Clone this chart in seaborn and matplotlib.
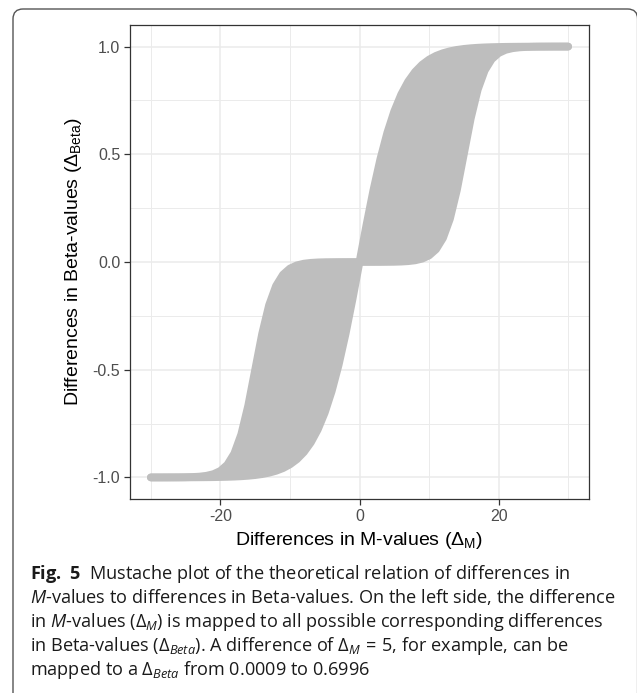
import matplotlib
matplotlib.use("Agg")
import matplotlib.pyplot as plt
import numpy as np
import pandas as pd
import seaborn as sns
from matplotlib.patches import FancyBboxPatch
from matplotlib.transforms import IdentityTransform

# ---- data ----
delta_m = list(range(-30, 31))
upper_beta = [-0.9999, -0.9999, -0.9998, -0.9997, -0.9995, -0.9990, -0.9980, -0.9961, -0.9922, -0.9846,
              -0.9697, -0.9412, -0.8889, -0.8000, -0.6667, -0.5000, -0.3333, -0.2000, -0.1111, -0.0588,
              -0.0303, -0.0154, -0.0077, -0.0039, -0.0019, -0.0009, -0.0005, -0.0002, -0.0001, -0.0000,
              0.0000, 0.1716, 0.3333, 0.4776, 0.6000, 0.6996, 0.7778, 0.8376, 0.8824, 0.9154,
              0.9394, 0.9568, 0.9692, 0.9781, 0.9845, 0.9890, 0.9922, 0.9945, 0.9961, 0.9972,
              0.9980, 0.9986, 0.9990, 0.9993, 0.9995, 0.9997, 0.9998, 0.9998, 0.9999, 0.9999, 0.9999]
lower_beta = [-0.9999, -0.9999, -0.9999, -0.9998, -0.9998, -0.9997, -0.9995, -0.9993, -0.9990, -0.9986,
              -0.9980, -0.9972, -0.9961, -0.9945, -0.9922, -0.9890, -0.9845, -0.9781, -0.9692, -0.9568,
              -0.9394, -0.9154, -0.8824, -0.8376, -0.7778, -0.6996, -0.6000, -0.4776, -0.3333, -0.1716,
              0.0000, 0.0000, 0.0001, 0.0002, 0.0005, 0.0009, 0.0019, 0.0039, 0.0077, 0.0154,
              0.0303, 0.0588, 0.1111, 0.2000, 0.3333, 0.5000, 0.6667, 0.8000, 0.8889, 0.9412,
              0.9697, 0.9846, 0.9922, 0.9961, 0.9980, 0.9990, 0.9995, 0.9997, 0.9998, 0.9999, 0.9999]
x_ticks = [-20, 0, 20]
x_ticklabels = ["-20", "0", "20"]
y_ticks = [-1.0, -0.5, 0.0, 0.5, 1.0]
y_ticklabels = ["-1.0", "-0.5", "0.0", "0.5", "1.0"]

caption_lines = [
    r"$\mathbf{Fig.\ 5}$  Mustache plot of the theoretical relation of differences in",
    r"$\mathit{M}$-values to differences in Beta-values. On the left side, the difference",
    r"in $\mathit{M}$-values ($\Delta_{M}$) is mapped to all possible corresponding differences",
    r"in Beta-values ($\Delta_{Beta}$). A difference of $\Delta_{M}\,=\,5$, for example, can be",
    r"mapped to a $\Delta_{Beta}$ from 0.0009 to 0.6996",
]

df = pd.DataFrame({"dm": delta_m, "upper": upper_beta, "lower": lower_beta})

# ---- style ----
sns.set_theme(style="white")
plt.rcParams["font.family"] = ["Liberation Sans", "DejaVu Sans"]
plt.rcParams["mathtext.fontset"] = "custom"
plt.rcParams["mathtext.rm"] = "Open Sans"
plt.rcParams["mathtext.it"] = "Open Sans:italic"
plt.rcParams["mathtext.bf"] = "Open Sans:bold"

W, H = 637, 693
fig = plt.figure(figsize=(W / 100, H / 100), dpi=100)
fig.patch.set_facecolor("white")
L, R, T, B = 130, 589, 25, 499
ax = fig.add_axes([L / W, 1 - B / H, (R - L) / W, (B - T) / H])

fill_col = "#BEBEBE"
ax.fill_between(df["dm"], df["lower"], df["upper"], color=fill_col, lw=0, zorder=2)
sns.lineplot(data=df, x="dm", y="upper", color=fill_col, lw=5.6, ax=ax,
             solid_capstyle="round", zorder=3)
sns.lineplot(data=df, x="dm", y="lower", color=fill_col, lw=5.6, ax=ax,
             solid_capstyle="round", zorder=3)

ax.set_xlim(-33, 33)
ax.set_ylim(-1.1, 1.1)
ax.set_xticks(x_ticks)
ax.set_xticklabels(x_ticklabels)
ax.set_yticks(y_ticks)
ax.set_yticklabels(y_ticklabels)
ax.set_xticks([-30, -10, 10, 30], minor=True)
ax.set_yticks([-0.75, -0.25, 0.25, 0.75], minor=True)
ax.grid(which="major", color="#EBEBEB", lw=1.1)
ax.grid(which="minor", color="#EBEBEB", lw=0.7)
ax.set_axisbelow(True)
ax.tick_params(which="major", direction="out", length=4.5, width=0.9, color="#333333",
               labelsize=11.5, labelcolor="#4D4D4D", pad=2.5, bottom=True, left=True)
ax.tick_params(which="minor", length=0)
for s in ax.spines.values():
    s.set_color("#333333")
    s.set_linewidth(0.9)

ax.set_xlabel(r"Differences in M-values ($\mathregular{\Delta_{M}}$)", fontsize=14,
              color="black", labelpad=4.5)
ax.set_ylabel(r"Differences in Beta-values ($\mathregular{\Delta_{Beta}}$)", fontsize=14,
              color="black", labelpad=6)

# caption
baselines = [579, 603, 627, 651, 675]
cap_size = 13
texts = []
for line, yb in zip(caption_lines, baselines):
    t = fig.text(30 / W, 1 - yb / H, line, fontfamily="Open Sans", fontsize=cap_size,
                 color="#1A1A1A", va="baseline", ha="left")
    texts.append(t)
# fit caption width to the reference (line 3 spans ~573 px)
fig.canvas.draw()
r = fig.canvas.get_renderer()
w3 = texts[2].get_window_extent(r).width
scale = 573 / w3
for t in texts:
    t.set_fontsize(cap_size * scale)

# outer rounded frame (right edge falls just outside the image)
x0, x1 = 13, 637.6
y_top = 9
frame = FancyBboxPatch((x0, -10), x1 - x0, (H - y_top) + 10,
                       boxstyle="round,pad=0,rounding_size=10",
                       transform=IdentityTransform(), fill=False, ec="#555555", lw=1.0,
                       figure=fig)
fig.patches.append(frame)

fig.savefig("out.png", dpi=100, facecolor="white")
